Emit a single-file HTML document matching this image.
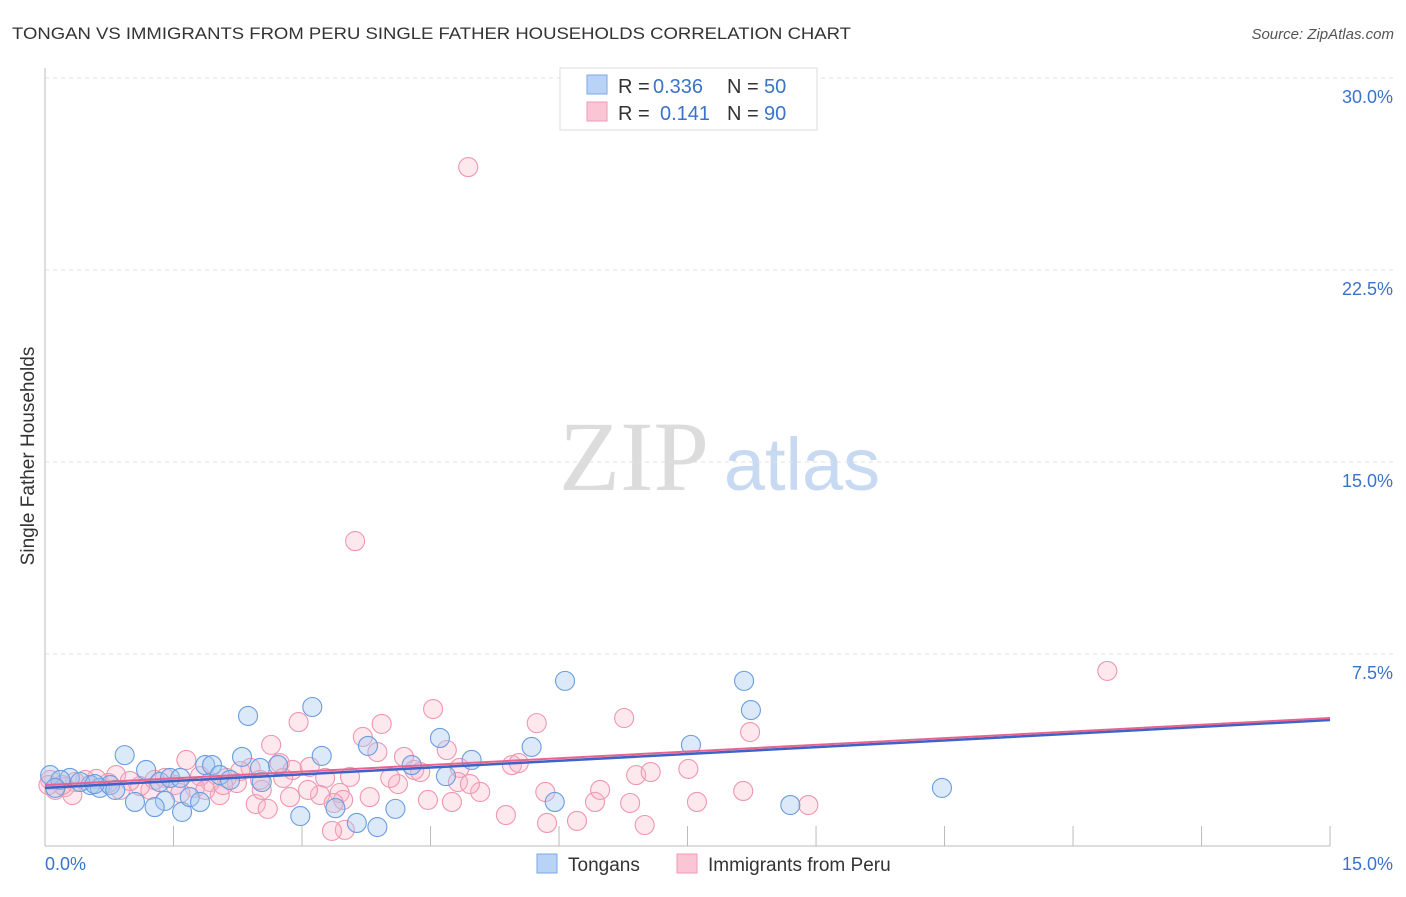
<!DOCTYPE html>
<html><head><meta charset="utf-8"><style>
body{margin:0;background:#fff;font-family:"Liberation Sans",sans-serif;}
</style></head><body>
<svg id="chart" width="1406" height="892" xmlns="http://www.w3.org/2000/svg" font-family="Liberation Sans, sans-serif">
<text x="12" y="39" font-size="17" fill="#333" textLength="839" lengthAdjust="spacingAndGlyphs">TONGAN VS IMMIGRANTS FROM PERU SINGLE FATHER HOUSEHOLDS CORRELATION CHART</text>
<text x="1394" y="39" font-size="15" fill="#555" text-anchor="end" font-style="italic">Source: ZipAtlas.com</text>
<text transform="translate(34,456) rotate(-90)" font-size="19" fill="#333" text-anchor="middle">Single Father Households</text>
<g>
<text x="634" y="490" font-size="100" fill="#dcdcdc" style="font-family:'Liberation Serif',serif" text-anchor="middle">ZIP</text>
<text x="802" y="490" font-size="74" fill="#c8daf2" text-anchor="middle">atlas</text>
</g>
<g id="grid"></g><g id="axes"></g><g id="pts"></g><g id="trend"></g>
<g>
<rect x="560" y="68" width="257" height="62" fill="#fff" stroke="#ddd"/>
<rect x="587" y="75" width="20" height="19" fill="#b8d3f5" stroke="#7aa7e4"/>
<rect x="587" y="102" width="20" height="19" fill="#fac6d5" stroke="#f09ab4"/>
<text x="618" y="93" font-size="20" fill="#333">R =</text>
<text x="653" y="93" font-size="20" fill="#3a73cc">0.336</text>
<text x="727" y="93" font-size="20" fill="#333">N =</text>
<text x="764" y="93" font-size="20" fill="#3a73cc">50</text>
<text x="618" y="120" font-size="20" fill="#333">R =</text>
<text x="660" y="120" font-size="20" fill="#3a73cc">0.141</text>
<text x="727" y="120" font-size="20" fill="#333">N =</text>
<text x="764" y="120" font-size="20" fill="#3a73cc">90</text>
</g>
<g>
<rect x="537" y="854" width="20" height="19" fill="#b8d3f5" stroke="#7aa7e4"/>
<text x="568" y="871" font-size="19" fill="#333">Tongans</text>
<rect x="677" y="854" width="20" height="19" fill="#fac6d5" stroke="#f09ab4"/>
<text x="708" y="871" font-size="19" fill="#333">Immigrants from Peru</text>
</g>
</svg>
<script>
const yTicks=[7.5,15,22.5,30];
const yTickLabels=["7.5%","15.0%","22.5%","30.0%"];
const xTickCount=10;
const blueX=[0.93,1.18,1.34,1.40,1.05,1.28,1.60,1.69,1.81,1.46,1.58,1.87,1.95,2.04,2.16,2.30,2.37,2.53,2.51,2.72,3.12,3.23,2.98,3.39,3.64,3.77,3.88,4.09,4.28,4.61,4.68,4.98,5.68,5.95,6.07,7.54,8.16,8.24,8.70,10.47,0.06,0.29,0.53,0.64,0.76,0.18,0.41,0.82,0.58,0.12];
const blueY=[3.55,2.97,2.50,1.76,1.72,1.52,1.33,1.91,1.72,2.66,2.66,3.16,3.16,2.77,2.58,3.48,5.08,2.50,3.05,3.16,5.43,3.52,1.17,1.48,0.90,3.91,0.74,1.45,3.16,4.22,2.73,3.36,3.87,1.72,6.45,3.95,6.45,5.31,1.60,2.27,2.77,2.66,2.38,2.27,2.38,2.58,2.50,2.19,2.42,2.27];
const pinkX=[4.94,3.62,12.40,4.53,6.76,5.74,3.93,2.96,8.23,3.71,3.88,2.64,1.65,2.40,2.74,2.89,3.09,3.27,3.56,4.19,4.31,4.69,4.84,4.82,4.38,4.12,3.79,3.44,3.21,3.07,3.48,3.37,2.46,2.53,2.60,4.47,4.75,5.08,5.38,5.86,6.21,6.42,6.83,7.00,7.61,6.90,7.07,7.51,8.15,8.91,5.45,5.53,2.24,2.12,1.93,1.81,1.75,1.52,1.23,1.11,0.88,0.83,0.74,0.60,0.47,0.35,0.23,0.12,0.06,0.32,0.20,0.99,1.40,2.04,2.28,2.78,2.08,1.87,1.58,1.28,2.51,4.03,2.86,3.50,3.35,5.84,4.96,6.48,0.04];
const pinkY=[26.52,11.91,6.84,5.35,5.00,4.80,4.77,4.84,4.45,4.26,3.67,3.95,3.36,3.05,3.24,2.97,3.09,2.66,2.70,3.48,2.97,3.75,3.05,2.50,2.89,2.42,1.91,2.07,1.99,2.19,1.80,1.68,1.64,2.19,1.45,1.80,1.72,2.11,1.21,0.90,0.98,1.72,1.68,0.82,1.72,2.77,2.89,3.01,2.15,1.60,3.16,3.24,2.46,2.66,2.50,2.73,2.27,2.38,2.19,2.34,2.19,2.77,2.46,2.62,2.58,2.50,2.30,2.19,2.58,1.99,2.38,2.54,2.66,1.99,2.93,2.66,2.38,2.19,2.07,2.58,2.58,2.66,1.91,0.63,0.59,2.11,2.42,2.19,2.38];
const blueTrend=[2.27,4.92];
const pinkTrend=[2.38,5.00];
const trendX=[0,15];
const NS="http://www.w3.org/2000/svg";
const sx=v=>45+v*85.67, sy=v=>846-v*25.6;
function mk(tag,attrs,parent){const e=document.createElementNS(NS,tag);for(const k in attrs)e.setAttribute(k,attrs[k]);parent.appendChild(e);return e;}
const grid=document.getElementById('grid'),axes=document.getElementById('axes'),pts=document.getElementById('pts'),tr=document.getElementById('trend');
yTicks.forEach((t,i)=>{
 const l=mk('line',{x1:45,x2:1393,y1:sy(t),y2:sy(t),stroke:'#e2e2e2','stroke-dasharray':'4,4'},grid);
 
 
 const tx=mk('text',{x:1393,y:sy(t)+25,'font-size':18,fill:'#3a73cc','text-anchor':'end'},grid);
 tx.textContent=yTickLabels[i];
 
 
});
const ya=mk('line',{x1:45,x2:45,y1:68,y2:846,stroke:'#bbb'},axes);


const xa=mk('line',{x1:45,x2:1330,y1:846,y2:846,stroke:'#bbb'},axes);


for(let i=1;i<=xTickCount;i++){
 const x=sx(i*1.5);
 const t=mk('line',{x1:x,x2:x,y1:826,y2:846,stroke:'#bbb'},axes);
 
 
}
const x0=mk('text',{x:45,y:870,'font-size':18,fill:'#3a73cc'},axes);x0.textContent='0.0%';


const x1=mk('text',{x:1393,y:870,'font-size':18,fill:'#3a73cc','text-anchor':'end'},axes);x1.textContent='15.0%';


pinkX.forEach((v,i)=>{
 const c=mk('circle',{cx:sx(v),cy:sy(pinkY[i]),r:9.5,fill:'rgba(248,180,200,0.3)',stroke:'#f096b1','stroke-width':1.1},pts);
 
 
});
blueX.forEach((v,i)=>{
 const c=mk('circle',{cx:sx(v),cy:sy(blueY[i]),r:9.5,fill:'rgba(165,200,240,0.4)',stroke:'#6a9de0','stroke-width':1.1},pts);
 
 
});
const bl=mk('line',{x1:sx(trendX[0]),x2:sx(trendX[1]),y1:sy(blueTrend[0]),y2:sy(blueTrend[1]),stroke:'#3d63c8','stroke-width':2.5},tr);


const pl=mk('line',{x1:sx(trendX[0]),x2:sx(trendX[1]),y1:sy(pinkTrend[0]),y2:sy(pinkTrend[1]),stroke:'#e8638e','stroke-width':2},tr);


</script>
</body></html>
